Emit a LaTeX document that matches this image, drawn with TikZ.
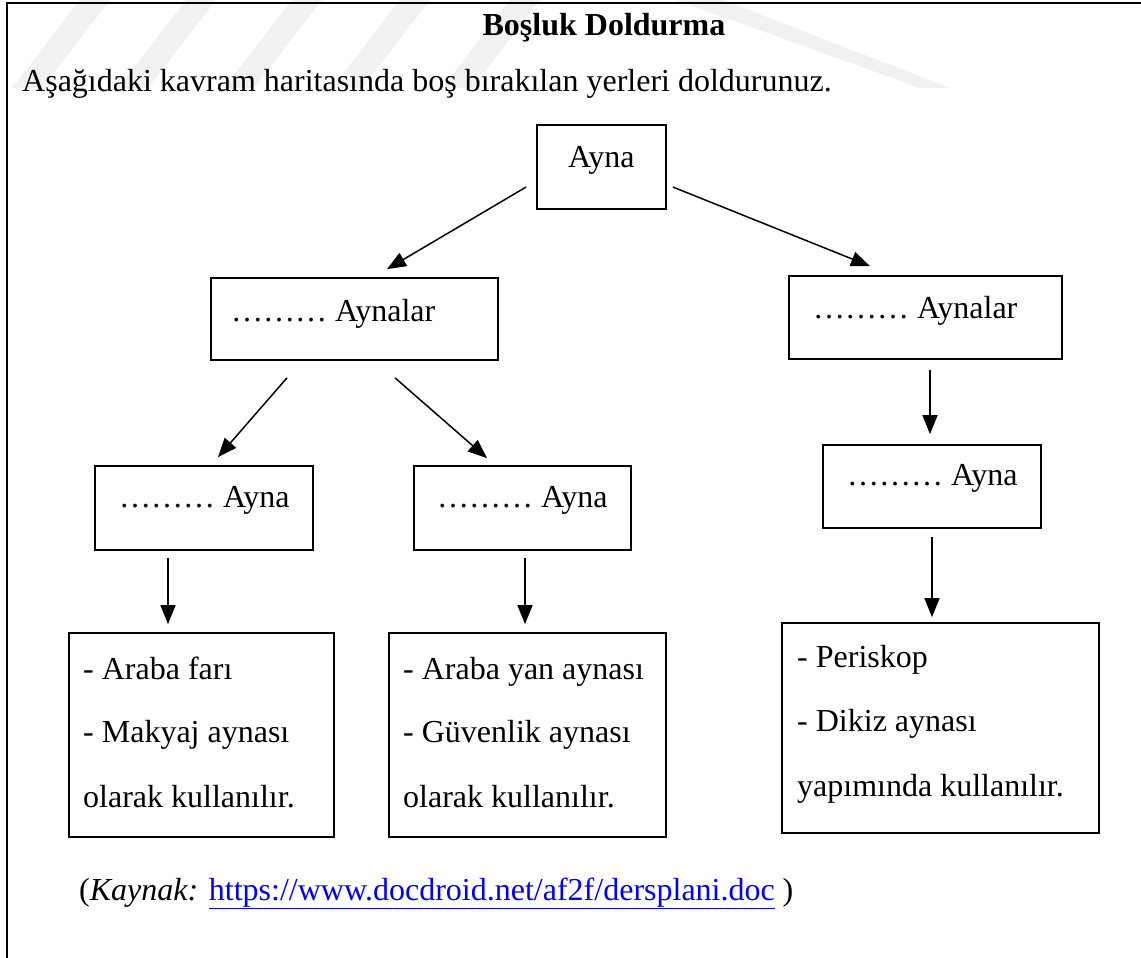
\documentclass[tikz,border=0pt]{standalone}
\usepackage{fontspec}
\setmainfont{Liberation Serif}
\usetikzlibrary{arrows.meta}
\definecolor{linkblue}{RGB}{0,0,255}
\definecolor{wmark}{RGB}{241,241,241}
\begin{document}
\begin{tikzpicture}[x=1pt,y=-1pt,
  box/.style={draw=black,line width=1.7pt,rectangle,inner sep=0pt},
  txt/.style={inner sep=0pt,anchor=base west,font=\fontsize{32}{38}\selectfont},
  arr/.style={line width=1.5pt,-{Triangle[length=19pt,width=15pt]}}]
\useasboundingbox (0,0) rectangle (1141,958);
% faint background stripes
\begin{scope}[fill=wmark]
  \foreach \xs in {80,186,292,400,510}
    \fill (\xs,0) -- (\xs+30,0) -- (\xs-38,88) -- (\xs-68,88) -- cycle;
  \fill (676,0) -- (723,0) -- (950,88) -- (920,88) -- cycle;
\end{scope}
% frame
\draw[line width=2.2pt] (7,958) -- (7,3) -- (1141,3);
% heading and instruction
\node[txt,anchor=base,font=\fontsize{32}{38}\selectfont\bfseries] (title) at (604,36) {Boşluk Doldurma};
\node[txt] (intro) at (22,92) {Aşağıdaki kavram haritasında boş bırakılan yerleri doldurunuz.};
% boxes
\node[box,minimum width=129pt,minimum height=84pt] (ayna) at (601.5,167) {};
\node[box,minimum width=287pt,minimum height=82pt] (aynalarL) at (354.5,319) {};
\node[box,minimum width=273pt,minimum height=83pt] (aynalarR) at (925.5,317.5) {};
\node[box,minimum width=218pt,minimum height=84pt] (aynaL) at (204,508) {};
\node[box,minimum width=217pt,minimum height=84pt] (aynaM) at (522.5,508) {};
\node[box,minimum width=218pt,minimum height=83pt] (aynaR) at (932,486.5) {};
\node[box,minimum width=265pt,minimum height=204pt] (useL) at (201.5,735) {};
\node[box,minimum width=277pt,minimum height=204pt] (useM) at (527.5,735) {};
\node[box,minimum width=317pt,minimum height=210pt] (useR) at (940.5,728) {};
% box texts
\node[txt] (t-ayna) at (568,167) {Ayna};
\node[txt] (t-aynalarL) at (231,321) {……… Aynalar};
\node[txt] (t-aynalarR) at (813,318) {……… Aynalar};
\node[txt] (t-aynaL) at (119,507) {……… Ayna};
\node[txt] (t-aynaM) at (437,507) {……… Ayna};
\node[txt] (t-aynaR) at (847,485) {……… Ayna};
\node[txt] (uL1) at (83,679) {- Araba farı};
\node[txt] (uL2) at (83,742) {- Makyaj aynası};
\node[txt] (uL3) at (83,807) {olarak kullanılır.};
\node[txt] (uM1) at (403,679) {- Araba yan aynası};
\node[txt] (uM2) at (403,742) {- Güvenlik aynası};
\node[txt] (uM3) at (403,807) {olarak kullanılır.};
\node[txt] (uR1) at (797,667) {- Periskop};
\node[txt] (uR2) at (797,731) {- Dikiz aynası};
\node[txt] (uR3) at (797,796) {yapımında kullanılır.};
% source line
\node[txt] (src) at (79,900) {(\textit{Kaynak:} \textcolor{linkblue}{\underline{https://www.docdroid.net/af2f/dersplani.doc}} )};
% connectors
\draw[arr] ([shift={(-10,20)}]ayna.west) -- ([shift={(32.5,-8)}]aynalarL.north);
\draw[arr] ([shift={(6,20)}]ayna.east) -- ([shift={(-55.5,-9)}]aynalarR.north);
\draw[arr] ([shift={(-67.5,17)}]aynalarL.south) -- ([shift={(14,-8)}]aynaL.north);
\draw[arr] ([shift={(40.5,17)}]aynalarL.south) -- ([shift={(-35.5,-7)}]aynaM.north);
\draw[arr] ([shift={(4.5,10)}]aynalarR.south) -- ([shift={(-2,-10)}]aynaR.north);
\draw[arr] ([shift={(-36,7)}]aynaL.south) -- ([shift={(-33.5,-8)}]useL.north);
\draw[arr] ([shift={(2.5,7)}]aynaM.south) -- ([shift={(-2.5,-8)}]useM.north);
\draw[arr] ([shift={(0,8)}]aynaR.south) -- ([shift={(-8.5,-5)}]useR.north);
\end{tikzpicture}
\end{document}
